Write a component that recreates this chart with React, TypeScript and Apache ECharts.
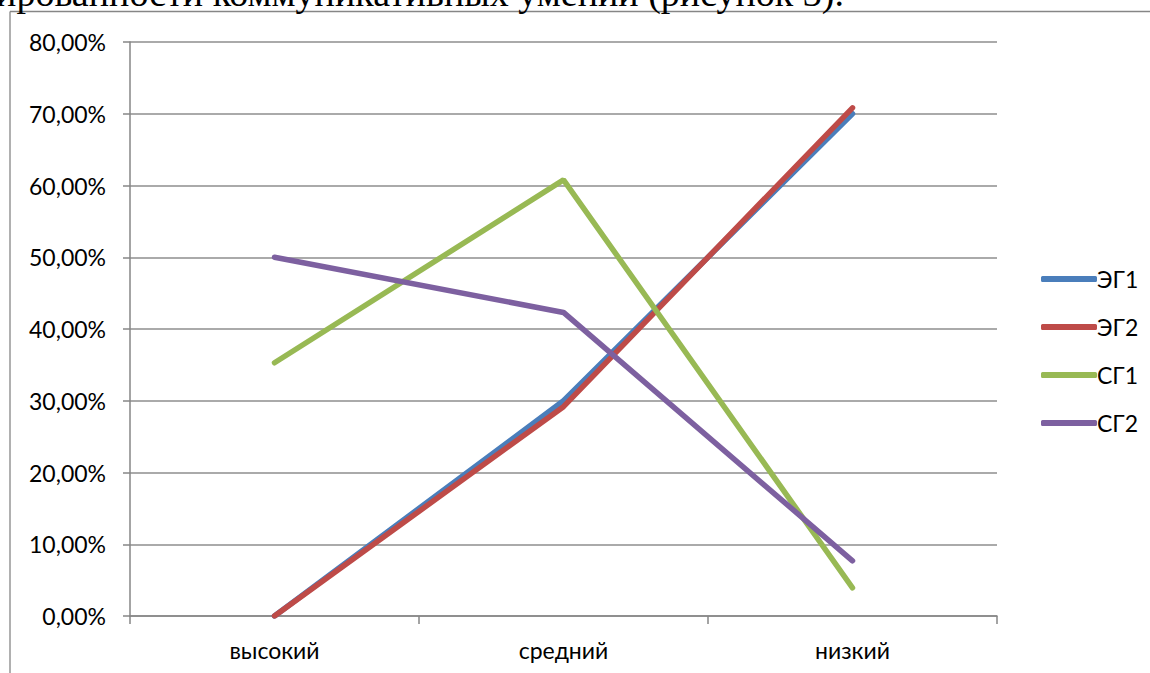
import React, { useEffect, useRef } from "react";
import * as echarts from "echarts";

const categories = ["высокий", "средний", "низкий"];
const seriesNames = ["ЭГ1", "ЭГ2", "СГ1", "СГ2"];
const eg1 = [0, 0.3, 0.7];
const eg2 = [0, 0.2917, 0.7083];
const sg1 = [0.3529, 0.6078, 0.0392];
const sg2 = [0.5, 0.4231, 0.0769];
const colors = ["#4A7EBB", "#BE4B48", "#98B954", "#7D60A0"];
const yTicks = { min: 0, max: 0.8, interval: 0.1 };
const captionText = "сформированности коммуникативных умений (рисунок 3).";

const FONT = "Lato, 'Open Sans', sans-serif";

export default function App() {
  const ref = useRef<HTMLDivElement>(null);
  useEffect(() => {
    if (!ref.current) return;
    const chart = echarts.init(ref.current, undefined, { renderer: "svg" });
    const data = [eg1, eg2, sg1, sg2];
    chart.setOption({
      animation: false,
      backgroundColor: "#ffffff",
      textStyle: { fontFamily: FONT },
      grid: { left: 130, right: 153, top: 42, bottom: 57, containLabel: false },
      legend: {
        orient: "vertical",
        left: 1036,
        top: 262,
        icon: "roundRect",
        itemWidth: 56,
        itemHeight: 6,
        itemGap: 24,
        textStyle: { fontFamily: FONT, fontSize: 23, color: "#000", lineHeight: 24, padding: [0, 0, 0, -5] },
        data: seriesNames,
      },
      xAxis: {
        type: "category",
        data: categories,
        boundaryGap: true,
        axisLine: { show: true, lineStyle: { color: "#868686", width: 1.5 } },
        axisTick: { show: true, length: 8, inside: false, lineStyle: { color: "#868686", width: 1.5 } },
        axisLabel: { color: "#000", fontFamily: FONT, fontSize: 23, margin: 22 },
        splitLine: { show: false },
      },
      yAxis: {
        type: "value",
        min: yTicks.min,
        max: yTicks.max,
        interval: yTicks.interval,
        axisLine: { show: true, lineStyle: { color: "#868686", width: 1.5 } },
        axisTick: { show: true, length: 7, inside: false, lineStyle: { color: "#868686", width: 1.5 } },
        axisLabel: {
          color: "#000",
          fontFamily: FONT,
          fontSize: 23,
          margin: 24,
          formatter: (v: number) => (v * 100).toFixed(2).replace(".", ",") + "%",
        },
        splitLine: { show: true, lineStyle: { color: "#8e8e8e", width: 1.5 } },
      },
      series: seriesNames.map((name, i) => ({
        name,
        type: "line",
        data: data[i],
        symbol: "none",
        lineStyle: { color: colors[i], width: 5.5, cap: "round" },
        itemStyle: { color: colors[i] },
        z: 2 + i,
      })),
      graphic: [
        {
          type: "line",
          shape: { x1: 10, y1: 11.5, x2: 1150, y2: 11.5 },
          style: { stroke: "#868686", lineWidth: 1.3 },
        },
        {
          type: "line",
          shape: { x1: 10, y1: 11.5, x2: 10, y2: 673 },
          style: { stroke: "#868686", lineWidth: 1.3 },
        },
        {
          type: "text",
          x: 844,
          y: -7,
          style: {
            text: captionText,
            font: "38px 'Liberation Serif', 'DejaVu Serif', serif",
            fill: "#000",
            align: "right",
            verticalAlign: "middle",
          },
        },
      ],
    });
    return () => chart.dispose();
  }, []);
  return (
    <div
      ref={ref}
      style={{ position: "absolute", left: 0, top: 0, width: 1150, height: 673 }}
    />
  );
}
